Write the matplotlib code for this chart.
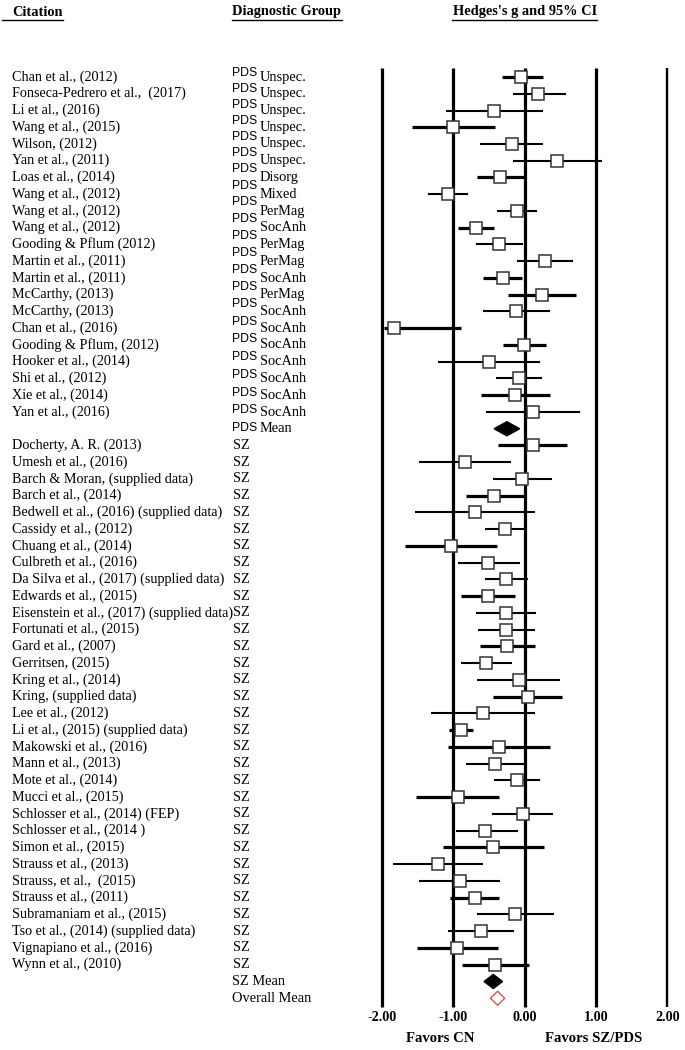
import matplotlib
matplotlib.use("Agg")
import matplotlib.pyplot as plt
import numpy as np

# ---------------- data ----------------
pds_citations = [
    "Chan et al., (2012)", "Fonseca-Pedrero et al.,  (2017)", "Li et al., (2016)",
    "Wang et al., (2015)", "Wilson, (2012)", "Yan et al., (2011)", "Loas et al., (2014)",
    "Wang et al., (2012)", "Wang et al., (2012)", "Wang et al., (2012)",
    "Gooding & Pflum (2012)", "Martin et al., (2011)", "Martin et al., (2011)",
    "McCarthy, (2013)", "McCarthy, (2013)", "Chan et al., (2016)",
    "Gooding & Pflum, (2012)", "Hooker et al., (2014)", "Shi et al., (2012)",
    "Xie et al., (2014)", "Yan et al., (2016)",
]
pds_subtypes = [
    "Unspec.", "Unspec.", "Unspec.", "Unspec.", "Unspec.", "Unspec.", "Disorg",
    "Mixed", "PerMag", "SocAnh", "PerMag", "PerMag", "SocAnh", "PerMag", "SocAnh",
    "SocAnh", "SocAnh", "SocAnh", "SocAnh", "SocAnh", "SocAnh",
]
pds_g = [-0.05, 0.19, -0.43, -1.00, -0.18, 0.45, -0.34, -1.07, -0.11, -0.68,
         -0.36, 0.28, -0.31, 0.24, -0.12, -1.84, -0.01, -0.50, -0.08, -0.14, 0.12]
pds_lo = [-0.32, -0.17, -1.11, -1.58, -0.62, -0.17, -0.67, -1.35, -0.39, -0.93,
          -0.68, -0.11, -0.58, -0.23, -0.59, -1.98, -0.31, -1.22, -0.40, -0.61, -0.54]
pds_hi = [0.25, 0.58, 0.25, -0.41, 0.26, 1.08, -0.01, -0.79, 0.17, -0.43,
          -0.03, 0.68, -0.04, 0.72, 0.36, -0.89, 0.30, 0.22, 0.24, 0.36, 0.78]

sz_citations = [
    "Docherty, A. R. (2013)", "Umesh et al., (2016)", "Barch & Moran, (supplied data)",
    "Barch et al., (2014)", "Bedwell et al., (2016) (supplied data)", "Cassidy et al., (2012)",
    "Chuang et al., (2014)", "Culbreth et al., (2016)", "Da Silva et al., (2017) (supplied data)",
    "Edwards et al., (2015)", "Eisenstein et al., (2017) (supplied data)", "Fortunati et al., (2015)",
    "Gard et al., (2007)", "Gerritsen, (2015)", "Kring et al., (2014)", "Kring, (supplied data)",
    "Lee et al., (2012)", "Li et al., (2015) (supplied data)", "Makowski et al., (2016)",
    "Mann et al., (2013)", "Mote et al., (2014)", "Mucci et al., (2015)",
    "Schlosser et al., (2014) (FEP)", "Schlosser et al., (2014 )", "Simon et al., (2015)",
    "Strauss et al., (2013)", "Strauss, et al.,  (2015)", "Strauss et al., (2011)",
    "Subramaniam et al., (2015)", "Tso et al., (2014) (supplied data)",
    "Vignapiano et al., (2016)", "Wynn et al., (2010)",
]
sz_g = [0.11, -0.84, -0.04, -0.43, -0.70, -0.28, -1.04, -0.51, -0.26, -0.52,
        -0.26, -0.26, -0.25, -0.54, -0.08, 0.04, -0.59, -0.89, -0.36, -0.42,
        -0.11, -0.94, -0.03, -0.55, -0.44, -1.22, -0.91, -0.70, -0.13, -0.61,
        -0.95, -0.42]
sz_lo = [-0.37, -1.48, -0.45, -0.82, -1.54, -0.56, -1.68, -0.93, -0.56, -0.90,
         -0.68, -0.65, -0.63, -0.90, -0.67, -0.44, -1.32, -1.06, -1.08, -0.83,
         -0.43, -1.53, -0.46, -0.97, -1.15, -1.85, -1.48, -1.05, -0.67, -1.07,
         -1.51, -0.88]
sz_hi = [0.60, -0.19, 0.38, -0.01, 0.15, -0.01, -0.39, -0.07, 0.05, -0.14,
         0.16, 0.14, 0.15, -0.18, 0.50, 0.53, 0.15, -0.72, 0.36, -0.01,
         0.22, -0.36, 0.40, -0.10, 0.27, -0.58, -0.34, -0.36, 0.41, -0.15,
         -0.38, 0.06]

summary_labels = ["Mean", "SZ Mean", "Overall Mean"]
summary_g = [-0.25, -0.44, -0.38]
summary_lo = [-0.43, -0.57, -0.48]
summary_hi = [-0.07, -0.31, -0.28]

x_ticks = [-2.0, -1.0, 0.0, 1.0, 2.0]
x_tick_labels = ["-2.00", "-1.00", "0.00", "1.00", "2.00"]

# ---------------- style (not data) ----------------
pds_thick = [1, 0, 0, 1, 0, 0, 1, 0, 0, 1, 0, 0, 1, 1, 0, 1, 1, 0, 0, 1, 0]
sz_thick = [1, 0, 0, 1, 0, 0, 1, 0, 0, 1, 0, 0, 1, 0, 0, 1, 0, 1, 1, 0,
            0, 1, 0, 0, 1, 0, 0, 1, 0, 0, 1, 1]

W, H = 685, 1050
DPI = 100
ROW0 = 77.0
ROWH = 16.75


def px2row(py):
    return (py - ROW0) / ROWH


fig = plt.figure(figsize=(W / DPI, H / DPI), dpi=DPI)
fig.patch.set_facecolor("white")

ylim = (px2row(H), px2row(0))

# text axes in pixel x, row y
axt = fig.add_axes([0, 0, 1, 1])
axt.set_xlim(0, W)
axt.set_ylim(*ylim)
axt.axis("off")

# forest plot axes
scale = 71.3
left_px, right_px = 370.0, 685.0
x0_px = 524.7
ax = fig.add_axes([left_px / W, 0, (right_px - left_px) / W, 1])
ax.set_xlim((left_px - x0_px) / scale, (right_px - x0_px) / scale)
ax.set_ylim(*ylim)
ax.axis("off")

serif = "Liberation Serif"
sans = "Liberation Sans"
FS = 10.2

n_pds = len(pds_citations)
n_sz = len(sz_citations)
pds_rows = np.arange(n_pds)
pds_mean_row = n_pds
sz_rows = np.arange(n_sz) + n_pds + 1
sz_mean_row = n_pds + 1 + n_sz
overall_row = sz_mean_row + 1

# headers
hy = px2row(12)
uy = px2row(20)
axt.text(12, hy, "Citation", fontfamily=serif, fontweight="bold", fontsize=10.4,
         va="center", ha="left")
axt.plot([2, 63], [uy, uy], color="black", lw=1.0)
axt.text(232, hy, "Diagnostic Group", fontfamily=serif, fontweight="bold", fontsize=10.4,
         va="center", ha="left")
axt.plot([232, 342], [uy, uy], color="black", lw=1.0)
axt.text(525, hy, "Hedges's g and 95% CI", fontfamily=serif, fontweight="bold",
         fontsize=10.4, va="center", ha="center")
axt.plot([452, 597], [uy, uy], color="black", lw=1.0)

# left columns
for i, (c, s) in enumerate(zip(pds_citations, pds_subtypes)):
    r = pds_rows[i]
    axt.text(12, r, c, fontfamily=serif, fontsize=FS, va="center", ha="left")
    off = (-4.5 - 6.0 * np.sin(np.pi * i / n_pds) + 4.0 * i / n_pds) / ROWH
    axt.text(232, r + off, "PDS", fontfamily=sans, fontsize=8.8, va="center", ha="left")
    axt.text(260, r, s, fontfamily=serif, fontsize=10.4, va="center", ha="left")
axt.text(232, pds_mean_row - 0.5 / ROWH, "PDS", fontfamily=sans, fontsize=8.8,
         va="center", ha="left")
axt.text(260, pds_mean_row, summary_labels[0], fontfamily=serif, fontsize=10.4,
         va="center", ha="left")

for i, c in enumerate(sz_citations):
    r = sz_rows[i]
    axt.text(12, r, c, fontfamily=serif, fontsize=FS, va="center", ha="left")
    axt.text(233, r, "SZ", fontfamily=serif, fontsize=10.4, va="center", ha="left")
axt.text(232, sz_mean_row, summary_labels[1], fontfamily=serif, fontsize=10.4,
         va="center", ha="left")
axt.text(232, overall_row, summary_labels[2], fontfamily=serif, fontsize=10.4,
         va="center", ha="left")

# vertical reference lines
vtop, vbot = px2row(68), px2row(1007)
for t in x_ticks:
    ax.plot([t, t], [vtop, vbot], color="black", lw=2.3 if t != 2.0 else 1.7,
            zorder=1, solid_capstyle="butt")

# studies
def draw_study(r, g, lo, hi, thick):
    ax.plot([lo, hi], [r, r], color="black", lw=2.3 if thick else 1.5, zorder=2,
            solid_capstyle="butt")
    ax.plot([g], [r], marker="s", markersize=9.2, markerfacecolor="white",
            markeredgecolor="#333333", markeredgewidth=1.1, zorder=3, linestyle="none")

for i in range(n_pds):
    draw_study(pds_rows[i], pds_g[i], pds_lo[i], pds_hi[i], pds_thick[i])
for i in range(n_sz):
    draw_study(sz_rows[i], sz_g[i], sz_lo[i], sz_hi[i], sz_thick[i])

# summary diamonds
def diamond(r, g, lo, hi, face, edge):
    h = 0.42
    xs = [lo, g, hi, g, lo]
    ys = [r, r - h, r, r + h, r]
    ax.fill(xs, ys, facecolor=face, edgecolor=edge, lw=1.0, zorder=4)

diamond(pds_mean_row, summary_g[0], summary_lo[0], summary_hi[0], "black", "black")
diamond(sz_mean_row, summary_g[1], summary_lo[1], summary_hi[1], "black", "black")
diamond(overall_row, summary_g[2], summary_lo[2], summary_hi[2], "white", "#d9534f")

# tick labels
ty = px2row(1018)
for t, lab in zip(x_ticks, x_tick_labels):
    ax.text(t, ty, lab, fontfamily=serif, fontweight="bold", fontsize=10.2,
            ha="center", va="center")

fy = px2row(1038)
ax.text(-1.19, fy, "Favors CN", fontfamily=serif, fontweight="bold", fontsize=10.6,
        ha="center", va="center")
ax.text(0.96, fy, "Favors SZ/PDS", fontfamily=serif, fontweight="bold", fontsize=10.6,
        ha="center", va="center")

fig.savefig("out.png", dpi=DPI, facecolor="white")
